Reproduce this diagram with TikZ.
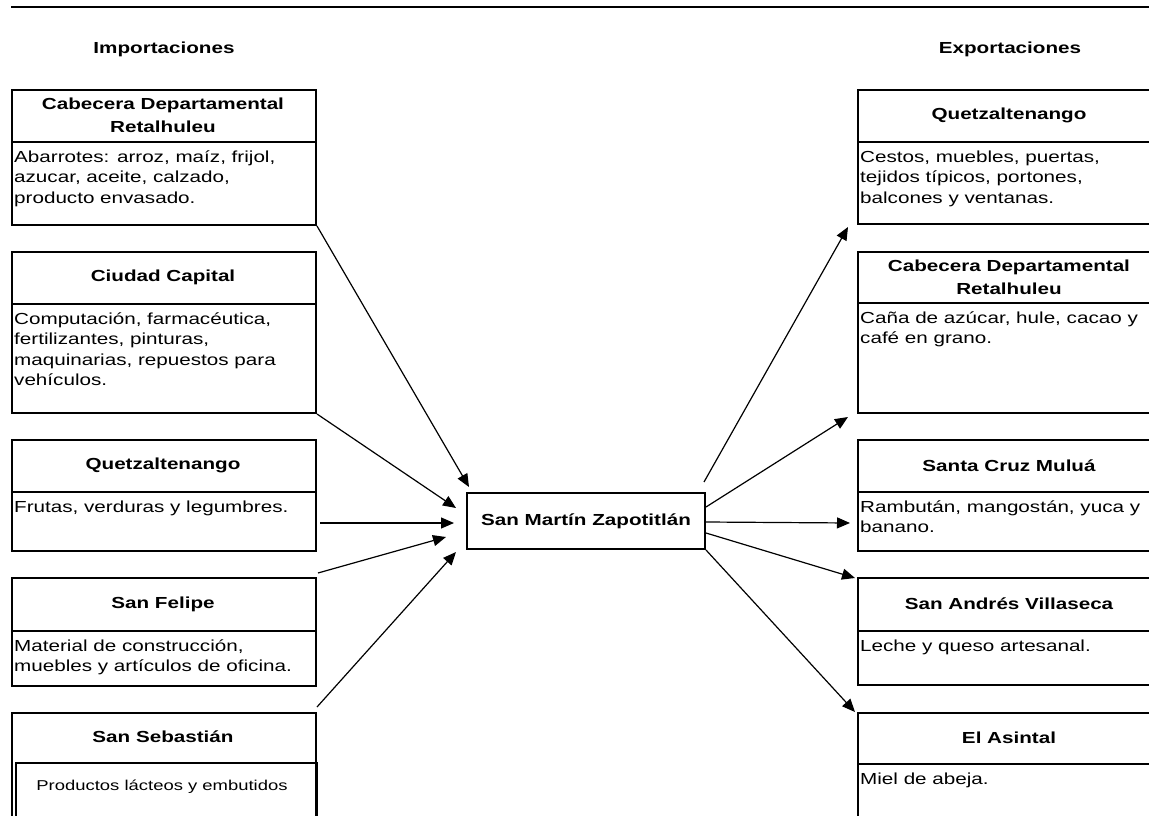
\documentclass[tikz,border=0pt]{standalone}
\usepackage{fontspec}
\setmainfont{Liberation Sans}[FakeStretch=1.29]
\usetikzlibrary{arrows.meta}
\begin{document}
\begin{tikzpicture}[x=1pt,y=-1pt,
  box/.style={draw, line width=2pt, rectangle, inner sep=0pt, anchor=north west, minimum width=304pt},
  rule/.style={line width=2pt},
  ttl/.style={font=\bfseries\fontsize{16}{23}\selectfont, align=center, inner sep=0pt},
  body/.style={font=\fontsize{16}{20.5}\selectfont, align=left, anchor=base west, inner sep=0pt},
  arr/.style={line width=1.2pt, -{Triangle[length=13pt,width=11pt]}}
]
\useasboundingbox (0,0) rectangle (1149,816);
\fill[white] (0,0) rectangle (1149,816);

% header rule and headings
\coordinate (hl) at (11,7);
\coordinate (hr) at (1152,7);
\draw[line width=2.3pt] (hl) -- (hr);
\node[ttl] (himp) at (164,49) {Importaciones};
\node[ttl] (hexp) at (1010,49) {Exportaciones};

% ---------- Importaciones ----------
% (body nodes are anchored at the baseline of their last line)
\node[box, minimum height=135pt] (imp1) at (11,89) {};
\draw[rule] (11,142) -- (315,142);
\node[ttl] (timp1) at (163,115.5) {Cabecera Departamental\\Retalhuleu};
\node[body] (bimp1) at (14,203) {Abarrotes: arroz, maíz, frijol,\\azucar, aceite, calzado,\\producto envasado.};

\node[box, minimum height=161pt] (imp2) at (11,251) {};
\draw[rule] (11,304) -- (315,304);
\node[ttl] (timp2) at (163,277.5) {Ciudad Capital};
\node[body] (bimp2) at (14,385.5) {Computación, farmacéutica,\\fertilizantes, pinturas,\\maquinarias, repuestos para\\vehículos.};

\node[box, minimum height=111pt] (imp3) at (11,439) {};
\draw[rule] (11,492) -- (315,492);
\node[ttl] (timp3) at (163,465.5) {Quetzaltenango};
\node[body] (bimp3) at (14,512) {Frutas, verduras y legumbres.};

\node[box, minimum height=108pt] (imp4) at (11,577) {};
\draw[rule] (11,631) -- (315,631);
\node[ttl] (timp4) at (163,604) {San Felipe};
\node[body] (bimp4) at (14,671.5) {Material de construcción,\\muebles y artículos de oficina.};

\node[box, minimum height=125pt] (imp5) at (11,712) {};
\node[box, line width=1.6pt, minimum width=301pt, minimum height=80pt] (imp5in) at (15,762) {};
\node[ttl] (timp5) at (163,737) {San Sebastián};
\node[anchor=base, inner sep=0pt, font=\fontsize{14.3}{17}\selectfont] (bimp5) at (162,790) {Productos lácteos y embutidos};

% ---------- Exportaciones ----------
\node[box, minimum height=134pt] (exp1) at (857,89) {};
\draw[rule] (857,142) -- (1162,142);
\node[ttl] (texp1) at (1009,115.5) {Quetzaltenango};
\node[body] (bexp1) at (860,203) {Cestos, muebles, puertas,\\tejidos típicos, portones,\\balcones y ventanas.};

\node[box, minimum height=161pt] (exp2) at (857,251) {};
\draw[rule] (857,303) -- (1162,303);
\node[ttl] (texp2) at (1009,277) {Cabecera Departamental\\Retalhuleu};
\node[body] (bexp2) at (860,343.5) {Caña de azúcar, hule, cacao y\\café en grano.};

\node[box, minimum height=111pt] (exp3) at (857,439) {};
\draw[rule] (857,492) -- (1162,492);
\node[ttl] (texp3) at (1009,465.5) {Santa Cruz Muluá};
\node[body] (bexp3) at (860,532.5) {Rambután, mangostán, yuca y\\banano.};

\node[box, minimum height=107pt] (exp4) at (857,577) {};
\draw[rule] (857,631) -- (1162,631);
\node[ttl] (texp4) at (1009,604) {San Andrés Villaseca};
\node[body] (bexp4) at (860,651) {Leche y queso artesanal.};

\node[box, minimum height=125pt] (exp5) at (857,712) {};
\draw[rule] (857,764) -- (1162,764);
\node[ttl] (texp5) at (1009,738) {El Asintal};
\node[body] (bexp5) at (860,784) {Miel de abeja.};

% ---------- Centre ----------
\node[draw, line width=2pt, minimum width=238pt, minimum height=56pt, inner sep=0pt,
      font=\bfseries\fontsize{16}{20}\selectfont] (c) at (586,521) {San Martín Zapotitlán};

% ---------- Connectors ----------
\draw[arr] (imp1.south east) -- ([shift={(3,-34)}]c.west);
\draw[arr] (imp2.south east) -- ([shift={(-10,-13)}]c.west);
\draw[arr] ([shift={(3,-29)}]imp3.south east) -- ([shift={(-12,2)}]c.west);
\draw[arr] ([shift={(1,-4)}]imp4.north east) -- ([shift={(-20,16)}]c.west);
\draw[arr] ([shift={(0,-5)}]imp5.north east) -- ([shift={(-10,31)}]c.west);

\draw[arr] ([shift={(-2,-39)}]c.east) -- ([shift={(-9,2)}]exp1.south west);
\draw[arr] ([shift={(0,-14)}]c.east) -- ([shift={(-9,3)}]exp2.south west);
\draw[arr] ([shift={(0,1)}]c.east) -- ([shift={(-7,27.5)}]exp3.west);
\draw[arr] ([shift={(0,12)}]c.east) -- ([shift={(-2,1)}]exp4.north west);
\draw[arr] ([shift={(0,29)}]c.east) -- ([shift={(-2,0)}]exp5.north west);
\end{tikzpicture}
\end{document}
